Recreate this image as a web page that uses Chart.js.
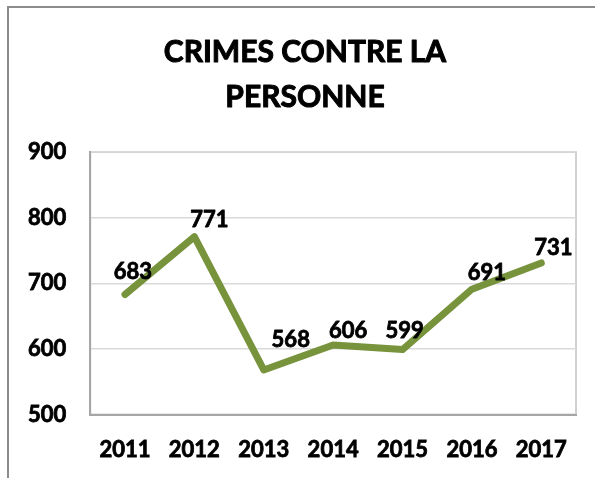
<!DOCTYPE html>
<html>
<head>
<meta charset="utf-8">
<script src="https://cdn.jsdelivr.net/npm/chart.js@4"></script>
<style>
  html, body { margin: 0; padding: 0; background: #fff; }
  #wrap { width: 595px; height: 478px; position: relative; }
</style>
</head>
<body>
<div id="wrap"><canvas id="line-chart" width="595" height="478"></canvas></div>
<script>
const years = ['2011', '2012', '2013', '2014', '2015', '2016', '2017'];
const crimes = [683, 771, 568, 606, 599, 691, 731];
const titleLines = ['CRIMES CONTRE LA', 'PERSONNE'];

const FONT = "Lato, 'Open Sans', sans-serif";

// label nudges (dx, dy) like the hand-placed labels of the original
const labelNudge = [[8, -15], [15, -10], [27, -23], [15, -7], [2, -12], [15, -9], [12, -8]];

// bold text drawn a bit heavier, closer to the original's look
function heavyText(ctx, txt, x, y, w) {
  ctx.lineWidth = w;
  ctx.strokeStyle = '#000';
  ctx.lineJoin = 'round';
  ctx.strokeText(txt, x, y);
  ctx.fillText(txt, x, y);
}

// outer frame, title, plot box and value labels
const extras = {
  id: 'extras',
  beforeDraw(chart) {
    const ctx = chart.ctx;
    const a = chart.chartArea;
    ctx.save();
    ctx.strokeStyle = '#8c8c8c';
    ctx.lineWidth = 2;
    ctx.beginPath();
    ctx.moveTo(8, 478);
    ctx.lineTo(8, 7);
    ctx.lineTo(595, 7);
    ctx.stroke();

    ctx.fillStyle = '#000';
    ctx.font = "bold 30px " + FONT;
    ctx.textAlign = 'center';
    ctx.textBaseline = 'alphabetic';
    heavyText(ctx, titleLines[0], 305, 62, 1);
    heavyText(ctx, titleLines[1], 305, 107, 1);

    ctx.strokeStyle = '#d0d0d0';
    ctx.lineWidth = 2;
    ctx.strokeRect(a.left, a.top, a.right - a.left, a.bottom - a.top);
    ctx.restore();
  },
  afterDatasetsDraw(chart) {
    const ctx = chart.ctx;
    const meta = chart.getDatasetMeta(0);
    ctx.save();
    ctx.font = "bold 22px " + FONT;
    ctx.fillStyle = '#000';
    ctx.textAlign = 'center';
    ctx.textBaseline = 'alphabetic';
    meta.data.forEach((pt, i) => {
      const n = labelNudge[i];
      heavyText(ctx, String(crimes[i]), pt.x + n[0], pt.y + n[1], 0.8);
    });
    ctx.restore();
  }
};

const ctx = document.getElementById('line-chart').getContext('2d');

new Chart(ctx, {
  type: 'line',
  data: {
    labels: years,
    datasets: [{
      label: 'Crimes',
      data: crimes,
      borderColor: '#77933C',
      borderWidth: 7,
      borderCapStyle: 'round',
      borderJoinStyle: 'round',
      pointRadius: 0,
      tension: 0,
      fill: false
    }]
  },
  options: {
    responsive: false,
    animation: false,
    layout: { padding: { left: 4, right: 19, top: 152, bottom: -7 } },
    plugins: {
      legend: { display: false },
      tooltip: { enabled: false },
      title: { display: false }
    },
    scales: {
      x: {
        offset: true,
        grid: { display: false, drawTicks: false },
        border: { color: '#a6a6a6', width: 2 },
        ticks: {
          color: '#000',
          padding: 22,
          textStrokeColor: '#000',
          textStrokeWidth: 0.8,
          font: { family: FONT, size: 22, weight: 'bold' }
        }
      },
      y: {
        min: 500,
        max: 900,
        grid: { color: '#d9d9d9', lineWidth: 1.5, drawTicks: false },
        border: { color: '#a6a6a6', width: 2 },
        ticks: {
          stepSize: 100,
          color: '#000',
          padding: 24,
          textStrokeColor: '#000',
          textStrokeWidth: 0.8,
          font: { family: FONT, size: 22, weight: 'bold' }
        }
      }
    }
  },
  plugins: [extras]
});
</script>
</body>
</html>
